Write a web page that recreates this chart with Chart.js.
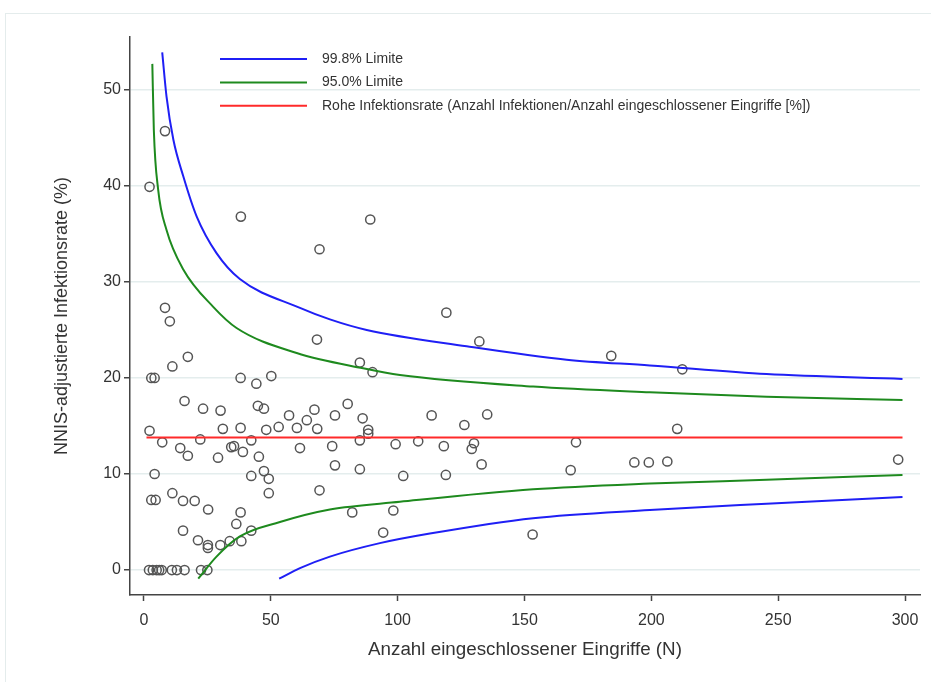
<!DOCTYPE html>
<html lang="de">
<head>
<meta charset="utf-8">
<title>NNIS-adjustierte Infektionsrate</title>
<script src="https://cdn.jsdelivr.net/npm/chart.js@4.4.1/dist/chart.umd.min.js"></script>
<style>
  html, body { margin: 0; padding: 0; background: #fff; overflow: hidden; }
  .frame { position: absolute; left: 5px; top: 13px; width: 1000px; height: 800px; border: 1px solid #e4ecec; }
  #funnel { position: absolute; left: 0; top: 0; }
</style>
</head>
<body>
<div class="frame"></div>
<canvas id="funnel" width="931" height="682"></canvas>
<script>
const xTicks = [0, 50, 100, 150, 200, 250, 300];
const yTicks = [0, 10, 20, 30, 40, 50];

// Anzahl Eingriffe (N) und adjustierte Rate je Einrichtung
const eingriffeN = [
  8.3, 2.2, 38.2, 89.2, 69.2, 119.2, 8.3, 10.2, 68.2, 132.2,
  184.2, 212.2, 85.1, 90.1, 17.3, 11.2, 2.9, 4.2, 38.1, 44.3,
  50.2, 16.0, 23.3, 30.2, 44.9, 47.3, 57.2, 67.2, 64.2, 75.3,
  80.3, 86.2, 88.4, 88.4, 113.4, 126.3, 135.3, 210.2, 2.2, 31.1,
  38.1, 48.2, 53.1, 60.3, 68.3, 7.2, 22.2, 14.3, 17.3, 29.2,
  34.4, 35.5, 39.0, 42.3, 45.3, 61.5, 74.2, 85.1, 99.2, 108.1,
  118.2, 130.1, 129.2, 170.3, 133.1, 168.2, 193.3, 199.0, 206.3, 297.3,
  75.3, 85.1, 102.2, 119.0, 69.2, 82.1, 98.3, 94.3, 153.2, 42.3,
  47.3, 49.2, 49.2, 38.1, 36.4, 42.3, 38.4, 33.8, 4.2, 2.9,
  4.6, 11.2, 15.4, 20.0, 25.3, 15.4, 21.3, 25.2, 25.2, 30.1,
  2.0, 3.5, 5.0, 6.0, 7.0, 11.0, 13.0, 16.0, 22.5, 25.0
];
const infektionsrate = [
  45.7, 39.9, 36.8, 36.5, 33.4, 26.8, 27.3, 25.9, 24.0, 23.8,
  22.3, 20.9, 21.6, 20.6, 22.2, 21.2, 20.0, 20.0, 20.0, 19.4,
  20.2, 17.6, 16.8, 16.6, 17.1, 16.8, 16.1, 16.7, 15.6, 16.1,
  17.3, 15.8, 14.6, 14.2, 16.1, 15.1, 16.2, 14.7, 14.5, 14.7,
  14.8, 14.6, 14.9, 14.8, 14.7, 13.3, 13.6, 12.7, 11.9, 11.7,
  12.8, 12.9, 12.3, 13.5, 11.8, 12.7, 12.9, 13.5, 13.1, 13.4,
  12.9, 13.2, 12.6, 13.3, 11.0, 10.4, 11.2, 11.2, 11.3, 11.5,
  10.9, 10.5, 9.8, 9.9, 8.3, 6.0, 6.2, 3.9, 3.7, 9.8,
  10.3, 9.5, 8.0, 6.0, 4.8, 4.1, 3.0, 3.0, 10.0, 7.3,
  7.3, 8.0, 7.2, 7.2, 6.3, 4.1, 3.1, 2.6, 2.3, 2.6,
  0, 0, 0, 0, 0, 0, 0, 0, 0, 0
];

// Rohe Infektionsrate
const rohN = [1, 299];
const rohRate = [13.8, 13.8];

// 99.8% Limite
const upper998N = [7.2, 8.9, 11.6, 15.5, 20.8, 28.6, 37.8, 61.5, 73.3, 87.8, 127.2, 166.6, 199.4, 245.4, 299];
const upper998 = [53.9, 49.3, 44.8, 41.0, 36.8, 33.0, 30.3, 27.3, 26.1, 25.0, 23.3, 21.9, 21.3, 20.4, 19.9];
const lower998N = [53.3, 61.5, 73.3, 93, 112.7, 153.4, 199.4, 245.4, 299];
const lower998 = [-0.9, 0.2, 1.4, 2.8, 3.8, 5.4, 6.25, 6.9, 7.6];

// 95.0% Limite
const upper950N = [3.3, 3.9, 5.6, 8.9, 15.5, 27.3, 36.5, 60.2, 86.4, 100.9, 153.4, 199.4, 245.4, 299];
const upper950 = [52.7, 45.8, 39.6, 35.4, 31.3, 27.4, 25.2, 22.6, 21.0, 20.3, 19.1, 18.5, 18.05, 17.7];
const lower950N = [21.4, 28.6, 37.8, 53.6, 73.3, 100.9, 153.4, 199.4, 245.4, 299];
const lower950 = [-0.9, 1.4, 3.5, 5.0, 6.3, 7.1, 8.4, 9.0, 9.4, 9.9];

const BLUE = '#1f1ff5';
const GREEN = '#1e8a1e';
const RED = '#ff2a2a';
const FONT = "Arial, 'Liberation Sans', sans-serif";

function toXY(xs, ys) {
  return xs.map((x, i) => ({ x, y: ys[i] }));
}

function limitLine(label, xs, ys, color) {
  return {
    type: 'line',
    label,
    data: toXY(xs, ys),
    borderColor: color,
    borderWidth: 2,
    pointRadius: 0,
    fill: false,
    cubicInterpolationMode: 'monotone'
  };
}

// legend drawn inside the plot, one entry per label
const innerLegend = {
  id: 'innerLegend',
  afterDraw(chart) {
    const { ctx, chartArea } = chart;
    const seen = [];
    chart.data.datasets.forEach(ds => {
      if (!ds.legend || seen.includes(ds.label)) return;
      const y = chartArea.top + 22 + seen.length * 23.4;
      seen.push(ds.label);
      ctx.save();
      ctx.strokeStyle = ds.borderColor;
      ctx.lineWidth = 2;
      ctx.beginPath();
      ctx.moveTo(chartArea.left + 90, y);
      ctx.lineTo(chartArea.left + 177, y);
      ctx.stroke();
      ctx.fillStyle = '#333';
      ctx.font = '14px ' + FONT;
      ctx.textBaseline = 'middle';
      ctx.fillText(ds.label, chartArea.left + 192, y);
      ctx.restore();
    });
  }
};

const ctx = document.getElementById('funnel').getContext('2d');
new Chart(ctx, {
  type: 'scatter',
  data: {
    datasets: [
      Object.assign(limitLine('99.8% Limite', upper998N, upper998, BLUE), { legend: true }),
      limitLine('99.8% Limite', lower998N, lower998, BLUE),
      Object.assign(limitLine('95.0% Limite', upper950N, upper950, GREEN), { legend: true }),
      limitLine('95.0% Limite', lower950N, lower950, GREEN),
      Object.assign(
        limitLine('Rohe Infektionsrate (Anzahl Infektionen/Anzahl eingeschlossener Eingriffe [%])', rohN, rohRate, RED),
        { legend: true }
      ),
      {
        label: 'Einrichtungen',
        data: toXY(eingriffeN, infektionsrate),
        pointRadius: 4.6,
        pointBorderWidth: 1.5,
        pointBorderColor: '#555',
        pointBackgroundColor: 'rgba(0,0,0,0)',
        showLine: false
      }
    ]
  },
  options: {
    responsive: false,
    devicePixelRatio: 1,
    animation: false,
    events: [],
    layout: { padding: { top: 37, right: 11, bottom: 12, left: 0 } },
    plugins: {
      legend: { display: false },
      tooltip: { enabled: false }
    },
    scales: {
      x: {
        type: 'linear',
        min: -5.5,
        max: 305.9,
        afterBuildTicks: s => { s.ticks = xTicks.map(v => ({ value: v })); },
        afterFit: s => { s.height = 75; },
        border: { color: '#444', width: 1.5 },
        grid: { drawOnChartArea: false, drawTicks: true, tickLength: 6, tickColor: '#444', tickWidth: 1.5 },
        ticks: { color: '#333', padding: 10, maxRotation: 0, font: { family: FONT, size: 16 } },
        title: {
          display: true,
          text: 'Anzahl eingeschlossener Eingriffe (N)',
          color: '#333',
          font: { family: FONT, size: 18.8 },
          padding: { top: 0, bottom: 9 }
        }
      },
      y: {
        type: 'linear',
        min: -2.6,
        max: 55.5,
        afterBuildTicks: s => { s.ticks = yTicks.map(v => ({ value: v })); },
        afterFit: s => { s.width = 130; },
        border: { color: '#444', width: 1.5 },
        grid: { color: '#e4eded', lineWidth: 1.5, drawTicks: true, tickLength: 6, tickColor: '#444', tickWidth: 1.5 },
        ticks: { color: '#333', padding: 3, font: { family: FONT, size: 16 } },
        title: {
          display: true,
          text: 'NNIS-adjustierte Infektionsrate (%)',
          color: '#333',
          font: { family: FONT, size: 18 },
          padding: { top: 51, bottom: 0 }
        }
      }
    }
  },
  plugins: [innerLegend]
});
</script>
</body>
</html>
